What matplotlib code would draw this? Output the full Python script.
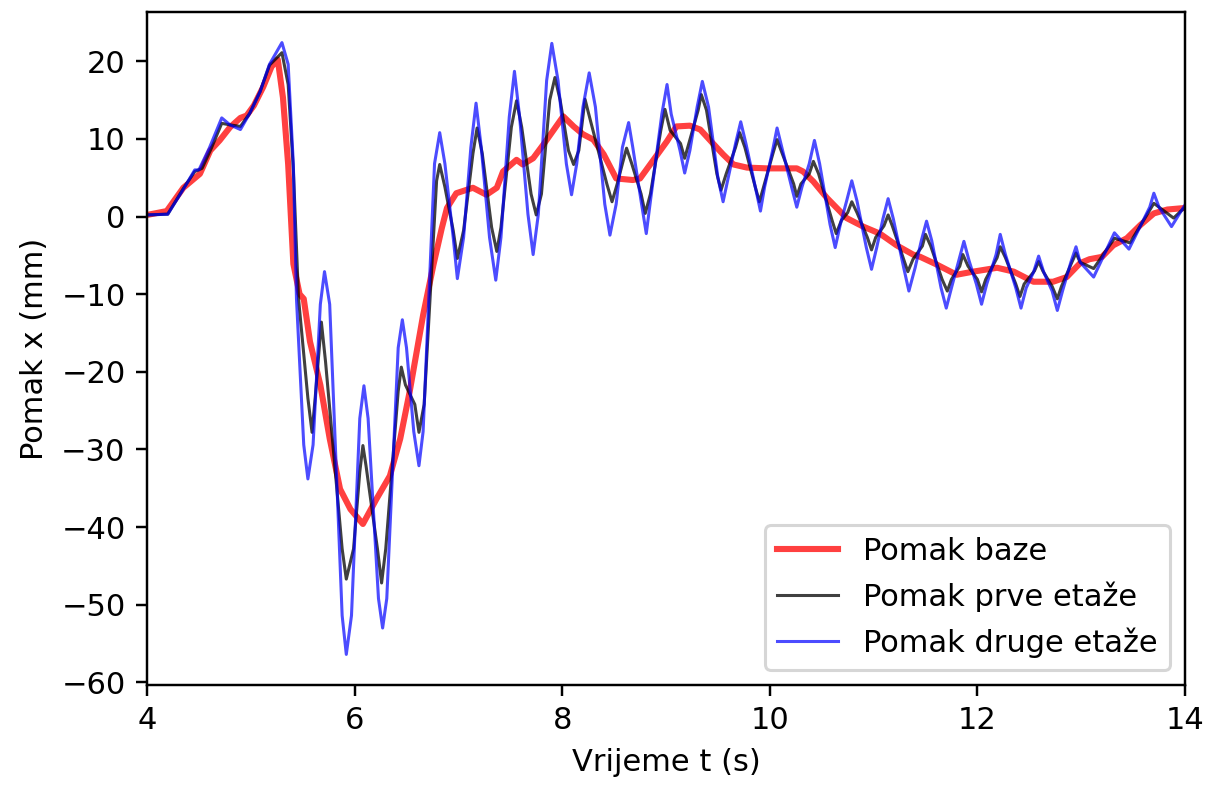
import matplotlib
matplotlib.use("Agg")
import matplotlib.pyplot as plt

# Pomak baze (red)
t_baza = [4.0, 4.19, 4.35, 4.51, 4.61, 4.70, 4.80, 4.90, 4.96, 5.03, 5.12, 5.20, 5.26,
          5.31, 5.36, 5.41, 5.47, 5.51, 5.57, 5.67, 5.76, 5.86, 5.96, 6.08, 6.21, 6.34,
          6.44, 6.53, 6.66, 6.76, 6.84, 6.89, 6.98, 7.14, 7.27, 7.37, 7.43, 7.56, 7.62,
          7.72, 7.82, 7.91, 8.01, 8.11, 8.20, 8.30, 8.40, 8.52, 8.68, 8.75, 8.88, 9.01,
          9.10, 9.23, 9.33, 9.46, 9.55, 9.65, 9.78, 9.97, 10.26, 10.32, 10.42, 10.55,
          10.74, 10.90, 11.06, 11.22, 11.38, 11.45, 11.61, 11.80, 11.96, 12.19, 12.35,
          12.54, 12.73, 12.86, 12.99, 13.08, 13.20, 13.31, 13.44, 13.57, 13.70, 13.83, 14.0]
x_baza = [0.2, 0.7, 3.7, 5.5, 8.5, 9.8, 11.5, 12.7, 13.0, 14.3, 16.7, 19.3, 20.2,
          15.3, 6.7, -6.1, -10.0, -10.6, -16.1, -21.7, -28.6, -35.1, -37.7, -39.6, -36.4, -33.4,
          -28.6, -22.6, -12.7, -6.2, -1.5, 1.1, 3.0, 3.7, 2.8, 3.7, 5.8, 7.3, 6.7,
          7.5, 9.3, 11.0, 12.9, 11.6, 10.6, 9.9, 8.0, 4.9, 4.7, 4.9, 7.3, 9.7,
          11.6, 11.7, 11.2, 9.3, 8.0, 6.7, 6.3, 6.2, 6.2, 5.8, 4.5, 2.4,
          -0.2, -1.3, -2.2, -3.7, -4.9, -5.2, -6.2, -7.5, -7.1, -6.6, -7.1,
          -8.4, -8.4, -7.8, -6.0, -5.5, -5.2, -3.7, -2.8, -1.1, 0.4, 0.9, 1.1]

# Pomak prve etaze (black): peaks, troughs and the flanks read next to them
t_prva = [4.0, 4.2, 4.35, 4.46, 4.53, 4.62, 4.72, 4.80, 4.90, 4.99, 5.09, 5.18, 5.30,
          5.36, 5.41, 5.46,
          5.55, 5.59, 5.62, 5.66, 5.68, 5.72, 5.88, 5.92, 5.99, 6.05, 6.08, 6.11,
          6.22, 6.26, 6.30, 6.42, 6.45, 6.49, 6.58, 6.62, 6.67, 6.79, 6.82, 6.87,
          6.95, 6.99, 7.05, 7.14, 7.18, 7.23, 7.32, 7.37, 7.41, 7.51, 7.56, 7.61,
          7.70, 7.75, 7.80, 7.88, 7.93, 7.98, 8.06, 8.11, 8.16, 8.22, 8.25,
          8.43, 8.48, 8.53, 8.58, 8.62, 8.67, 8.76, 8.80, 8.85, 8.95, 8.99, 9.04,
          9.14, 9.18, 9.22, 9.31, 9.34, 9.39, 9.49, 9.53, 9.58, 9.67, 9.71, 9.76,
          9.86, 9.90, 9.94, 10.03, 10.07, 10.12, 10.23, 10.26, 10.30, 10.38, 10.42, 10.47,
          10.60, 10.64, 10.69, 10.75, 10.79, 10.84, 10.94, 10.98, 11.02, 11.10, 11.14, 11.18,
          11.29, 11.33, 11.38, 11.47, 11.50, 11.55, 11.66, 11.71, 11.75, 11.83, 11.86, 11.91,
          12.00, 12.04, 12.08, 12.19, 12.22, 12.27, 12.37, 12.41, 12.45, 12.55, 12.59, 12.63,
          12.72, 12.77, 12.81, 12.91, 12.95, 12.99, 13.12, 13.32, 13.47,
          13.70, 13.89, 14.0]
x_prva = [0.2, 0.3, 3.6, 5.8, 6.2, 8.8, 12.0, 11.8, 11.6, 13.3, 16.1, 19.5, 21.1,
          17.0, 6.0, -10.6,
          -23.4, -27.8, -23.4, -16.9, -13.6, -18.7, -42.8, -46.7, -42.8, -32.9, -29.5, -32.1,
          -42.8, -47.2, -42.8, -22.5, -19.4, -21.7, -24.2, -27.8, -24.2, 4.6, 6.7, 3.8,
          -1.8, -5.4, -1.8, 8.1, 11.4, 8.1, -1.4, -4.5, -1.4, 11.5, 14.9, 11.5,
          2.9, 0.2, 2.9, 15.0, 17.9, 15.0, 8.5, 6.7, 8.5, 15.1, 13.5,
          4.2, 1.9, 4.2, 6.8, 8.8, 6.8, 2.9, 0.4, 2.9, 11.1, 13.8, 11.1,
          9.4, 7.5, 9.4, 13.7, 15.7, 13.7, 5.5, 3.4, 5.5, 8.9, 10.8, 8.9,
          3.8, 1.9, 3.8, 8.1, 9.9, 8.1, 4.2, 2.6, 4.2, 5.5, 7.1, 5.5,
          -0.5, -2.2, -0.5, 0.5, 1.9, 0.5, -2.7, -4.3, -2.7, -1.2, 0.2, -1.2,
          -5.5, -7.1, -5.5, -3.8, -2.3, -3.8, -8.1, -9.6, -8.1, -6.4, -4.9, -6.4,
          -8.1, -9.7, -8.1, -5.3, -3.9, -5.3, -8.7, -10.3, -8.7, -7.0, -5.8, -7.0,
          -9.0, -10.6, -9.0, -5.9, -4.7, -5.9, -6.7, -2.8, -3.4,
          1.7, -0.2, 1.2]

# Pomak druge etaze (blue): peaks, troughs and the flanks read next to them
t_druga = [4.0, 4.2, 4.35, 4.46, 4.50, 4.60, 4.72, 4.80, 4.90, 4.99, 5.09, 5.18, 5.30,
           5.36, 5.41, 5.44,
           5.51, 5.55, 5.60, 5.67, 5.71, 5.76, 5.88, 5.92, 5.97, 6.05, 6.09, 6.13,
           6.23, 6.27, 6.31, 6.42, 6.46, 6.50, 6.57, 6.62, 6.66, 6.77, 6.82, 6.87,
           6.95, 6.99, 7.05, 7.12, 7.17, 7.22, 7.30, 7.36, 7.41, 7.49, 7.54, 7.59,
           7.67, 7.72, 7.77, 7.85, 7.90, 7.96, 8.04, 8.09, 8.14, 8.20, 8.26, 8.32,
           8.41, 8.46, 8.52, 8.58, 8.64, 8.68, 8.76, 8.81, 8.85, 8.96, 9.01, 9.05,
           9.135, 9.18, 9.23, 9.30, 9.35, 9.41, 9.50, 9.55, 9.60, 9.67, 9.72, 9.77,
           9.86, 9.91, 9.95, 10.03, 10.07, 10.12, 10.21, 10.26, 10.31, 10.38, 10.43, 10.48,
           10.58, 10.63, 10.68, 10.74, 10.79, 10.84, 10.93, 10.98, 11.03, 11.09, 11.14, 11.19,
           11.29, 11.34, 11.40, 11.46, 11.51, 11.56, 11.65, 11.70, 11.75, 11.82, 11.87, 11.92,
           11.99, 12.04, 12.09, 12.18, 12.22, 12.27, 12.37, 12.42, 12.47, 12.54, 12.59, 12.64,
           12.72, 12.77, 12.82, 12.90, 12.95, 12.99, 13.12, 13.32, 13.46,
           13.66, 13.70, 13.75, 13.87, 14.0]
x_druga = [0.2, 0.3, 3.5, 6.0, 6.0, 8.8, 12.7, 11.8, 11.2, 13.3, 16.1, 19.6, 22.4,
           19.6, 6.7, -10.6,
           -29.4, -33.8, -29.4, -11.3, -7.1, -11.3, -51.4, -56.4, -51.4, -26.0, -21.8, -26.0,
           -49.2, -53.0, -49.2, -16.9, -13.3, -16.9, -27.7, -32.1, -27.7, 6.8, 10.8, 6.8,
           -2.7, -8.0, -2.7, 8.9, 14.6, 8.9, -2.7, -8.2, -2.7, 12.8, 18.7, 12.8,
           0.3, -4.9, 0.3, 17.5, 22.3, 17.5, 6.8, 2.8, 6.8, 14.1, 18.5, 14.1,
           1.6, -2.4, 1.6, 8.9, 12.1, 8.9, 2.0, -2.2, 2.0, 13.2, 17.0, 13.2,
           8.5, 5.6, 8.5, 14.1, 17.4, 14.1, 5.0, 1.9, 5.0, 9.4, 12.2, 9.4,
           3.8, 0.7, 3.8, 8.7, 11.4, 8.7, 3.8, 1.2, 3.8, 6.8, 9.8, 6.8,
           -1.0, -4.0, -1.0, 2.0, 4.6, 2.0, -4.0, -6.8, -4.0, -0.3, 2.3, -0.3,
           -6.6, -9.6, -6.6, -3.1, -0.6, -3.1, -9.2, -11.8, -9.2, -5.7, -3.2, -5.7,
           -8.7, -11.3, -8.7, -4.9, -2.3, -4.9, -9.2, -11.8, -9.2, -7.2, -5.1, -7.2,
           -9.6, -12.1, -9.6, -5.9, -3.9, -5.9, -7.8, -2.1, -4.2,
           1.2, 3.0, 1.2, -1.3, 1.5]

plt.figure(figsize=(1211 / 220, 787 / 220), dpi=220)
plt.plot(t_baza, x_baza, color='red', alpha=0.75, lw=2, label='Pomak baze')
plt.plot(t_prva, x_prva, color='black', alpha=0.75, lw=1, label='Pomak prve etaže')
plt.plot(t_druga, x_druga, color='blue', alpha=0.7, lw=1, label='Pomak druge etaže')

plt.xlim(4, 14)
plt.xlabel('Vrijeme t (s)')
plt.ylabel('Pomak x (mm)')
plt.legend(loc='lower right')
plt.subplots_adjust(left=147 / 1211, right=1185 / 1211, top=1 - 12 / 787, bottom=1 - 685 / 787)
plt.savefig('out.png', dpi=220)
